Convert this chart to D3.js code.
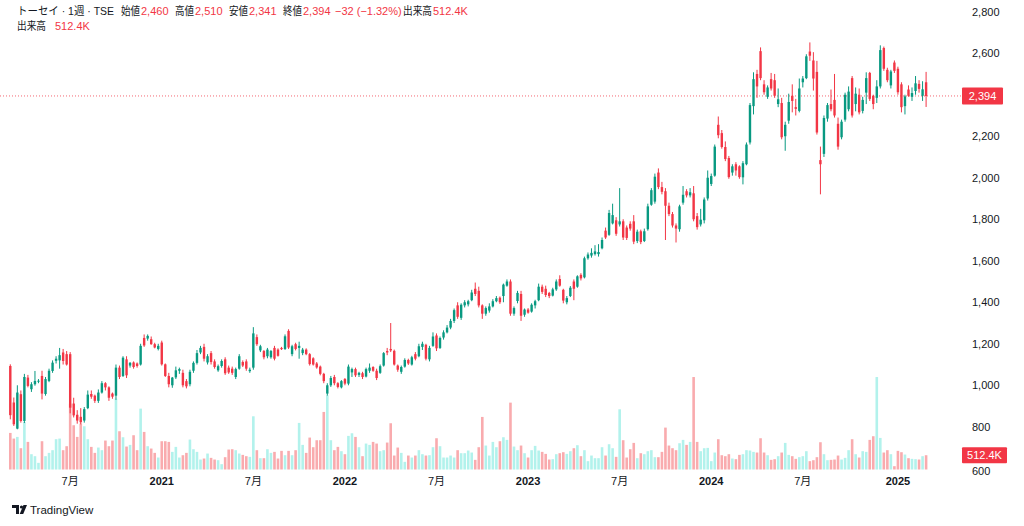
<!DOCTYPE html>
<html><head><meta charset="utf-8">
<script src="https://cdn.jsdelivr.net/npm/d3@7"></script>
<style>
html,body{margin:0;padding:0;background:#fff;}
svg{display:block;}
text{font-family:"Liberation Sans","Noto Sans CJK JP",sans-serif;}
</style></head>
<body>
<svg id="chart" width="1024" height="526"></svg>
<script>
// ---- data (weekly, first bar = week of 2020-03-09) ----
const opens = [1093,917,791,957,828,1037,981,1005,1018,1045,958,1021,1069,1118,1120,1158,1150,1150,912,858,848,830,890,958,950,925,965,1010,990,960,950,1085,1045,1125,1095,1110,1105,1100,1228,1225,1222,1198,1175,1206,1101,1045,1000,1038,1070,1060,1020,1005,1070,1108,1158,1185,1110,1155,1115,1072,1093,1125,1085,1080,1040,1080,1112,1115,1068,1085,1232,1168,1165,1140,1135,1180,1172,1180,1175,1262,1150,1198,1180,1155,1172,1150,1130,1105,1090,1055,960,1000,1040,1010,990,1030,1008,1062,1078,1050,1058,1042,1070,1088,1070,1060,1095,1165,1175,1166,1095,1065,1090,1122,1100,1150,1140,1185,1195,1125,1190,1240,1180,1230,1255,1278,1310,1385,1325,1385,1390,1410,1465,1455,1385,1345,1360,1380,1405,1422,1430,1480,1500,1345,1406,1440,1340,1365,1355,1385,1410,1475,1465,1445,1432,1462,1512,1460,1400,1430,1500,1475,1532,1520,1612,1625,1632,1632,1660,1745,1725,1780,1795,1775,1790,1760,1778,1790,1695,1742,1695,1752,1870,1885,2025,1955,1935,1865,1825,1770,1752,1880,1935,1915,1925,1815,1775,1795,1900,1970,2010,2255,2215,2148,2095,2025,2065,2055,2002,2065,2170,2345,2500,2610,2450,2390,2475,2470,2355,2360,2200,2275,2395,2340,2322,2460,2480,2608,2565,2510,2085,2115,2285,2355,2375,2260,2195,2280,2330,2480,2355,2400,2322,2410,2505,2395,2385,2440,2625,2520,2445,2555,2525,2450,2345,2425,2390,2418,2452,2395,2460];
const highs = [1101,941,1000,975,1055,1050,1015,1069,1030,1070,1040,1080,1120,1140,1180,1175,1165,1160,940,880,890,895,975,975,955,980,1020,1015,995,965,1100,1095,1140,1140,1112,1115,1110,1200,1245,1245,1235,1205,1200,1215,1105,1060,1040,1090,1085,1075,1030,1075,1115,1170,1190,1200,1150,1165,1125,1100,1125,1135,1095,1090,1085,1150,1120,1125,1085,1280,1245,1195,1170,1180,1170,1190,1178,1185,1245,1270,1195,1205,1210,1180,1178,1155,1135,1112,1095,1060,1010,1045,1050,1015,1025,1035,1100,1085,1085,1065,1065,1085,1105,1092,1080,1100,1160,1180,1300,1172,1100,1095,1130,1128,1142,1160,1200,1210,1200,1190,1255,1250,1235,1265,1290,1320,1370,1400,1395,1410,1412,1460,1495,1475,1390,1380,1395,1415,1430,1428,1490,1510,1510,1380,1455,1455,1370,1372,1395,1412,1490,1485,1480,1450,1470,1510,1530,1465,1430,1478,1510,1530,1540,1620,1640,1660,1675,1680,1712,1760,1845,1875,1810,1950,1800,1770,1790,1820,1750,1750,1755,1875,1950,2020,2045,1980,1950,1880,1835,1780,1870,1960,1945,1950,1960,1830,1850,1905,2035,2020,2160,2295,2230,2175,2105,2065,2075,2060,2080,2170,2360,2508,2520,2628,2470,2445,2505,2500,2430,2385,2270,2405,2450,2380,2478,2490,2595,2652,2605,2563,2150,2300,2360,2425,2500,2290,2280,2410,2440,2490,2435,2430,2390,2508,2510,2400,2470,2638,2632,2530,2520,2565,2535,2460,2400,2445,2435,2490,2470,2465,2510];
const lows = [836,804,788,820,818,990,968,998,1010,932,950,1015,1060,1105,1080,1100,1095,865,845,815,812,820,885,935,915,915,960,975,925,935,930,1030,1040,1035,1085,1080,1085,1095,1185,1215,1195,1178,1168,1095,1040,990,988,1030,1055,990,985,995,1060,1100,1150,1115,1100,1100,1080,1065,1085,1050,1055,1050,1030,1075,1088,1070,1060,1075,1190,1160,1125,1130,1128,1120,1138,1170,1170,1175,1140,1168,1128,1145,1145,1095,1095,1080,1048,1010,950,992,1000,985,985,1000,1000,1040,1040,1040,1030,1038,1060,1065,1025,1055,1090,1145,1160,1095,1065,1055,1085,1098,1095,1120,1135,1170,1120,1115,1185,1165,1175,1220,1250,1270,1300,1320,1315,1375,1380,1405,1430,1375,1320,1335,1350,1375,1400,1392,1400,1475,1335,1335,1395,1310,1330,1345,1350,1370,1405,1440,1425,1420,1428,1455,1475,1395,1390,1425,1410,1470,1505,1515,1605,1615,1625,1620,1655,1705,1720,1775,1720,1765,1700,1700,1745,1680,1685,1680,1690,1745,1865,1875,1945,1920,1700,1815,1760,1688,1740,1870,1905,1905,1790,1750,1765,1780,1890,1960,2005,2190,2140,2080,1995,2010,2010,1995,1968,2060,2160,2305,2385,2470,2400,2380,2420,2385,2340,2185,2130,2260,2315,2300,2315,2435,2475,2563,2420,2208,1920,2100,2270,2320,2290,2135,2185,2270,2320,2290,2320,2305,2310,2355,2370,2330,2360,2430,2515,2460,2430,2505,2400,2315,2305,2390,2370,2400,2410,2370,2341];
const closes = [856,812,965,828,1040,997,1005,1021,1022,960,1030,1070,1109,1128,1145,1117,1100,892,855,830,822,885,955,945,925,965,1010,990,940,945,1085,1040,1133,1048,1108,1088,1093,1190,1192,1238,1198,1182,1190,1101,1045,1005,1037,1072,1078,1000,995,1065,1108,1155,1180,1128,1140,1112,1088,1092,1117,1058,1062,1060,1078,1140,1095,1080,1075,1250,1198,1188,1135,1172,1165,1128,1142,1174,1236,1182,1188,1175,1190,1172,1150,1102,1100,1086,1055,1020,1000,1035,1010,992,1020,1008,1090,1078,1048,1060,1040,1078,1085,1070,1035,1092,1155,1158,1168,1100,1075,1088,1122,1105,1135,1128,1188,1200,1128,1180,1235,1178,1228,1255,1278,1310,1362,1330,1388,1400,1405,1447,1440,1385,1345,1372,1380,1405,1420,1400,1485,1500,1345,1372,1445,1335,1365,1350,1388,1405,1475,1450,1435,1430,1462,1500,1480,1408,1420,1470,1465,1525,1515,1612,1630,1638,1645,1642,1700,1712,1830,1820,1730,1790,1712,1710,1755,1692,1740,1690,1742,1862,1940,2005,1955,1932,1865,1825,1770,1755,1862,1918,1915,1930,1800,1762,1798,1895,2000,2008,2150,2205,2148,2090,2003,2055,2035,2003,2070,2160,2350,2475,2440,2480,2412,2435,2430,2395,2378,2195,2255,2365,2370,2332,2430,2478,2585,2588,2478,2218,2065,2288,2350,2330,2300,2150,2270,2400,2415,2300,2405,2315,2375,2480,2380,2355,2440,2615,2525,2470,2512,2515,2412,2340,2392,2395,2408,2455,2428,2426,2394];
const volumesK = [1313,1110,1170,764,1707,991,549,478,239,1015,478,597,693,1087,1110,693,836,2364,1588,1170,1648,1552,1087,812,597,788,693,1039,836,1039,2543,1373,1158,824,884,1230,693,2185,1349,836,752,597,430,1015,1015,991,633,812,430,513,597,1075,728,633,358,394,573,418,358,334,191,442,716,728,693,573,525,478,454,1910,693,406,406,728,597,633,394,669,513,669,513,693,1672,884,597,1146,800,1051,1051,2066,2663,1051,693,812,657,549,1206,1301,1170,800,478,931,884,991,931,657,693,967,1660,501,788,597,275,501,430,501,693,549,501,513,800,1122,836,430,430,501,430,693,585,585,681,609,346,800,1887,860,501,991,800,1015,1158,1063,2400,824,693,860,585,430,693,848,681,633,561,358,370,549,585,621,561,657,764,872,478,693,299,501,406,406,800,501,907,764,454,2161,1051,430,728,955,406,585,549,657,693,442,442,633,1504,860,764,693,943,1063,884,991,3319,991,657,764,776,299,609,1087,513,478,549,394,370,525,549,693,681,633,609,1122,609,513,346,370,478,609,955,525,478,382,442,478,657,299,334,442,979,549,334,346,358,501,358,418,693,1087,549,430,657,633,1063,1194,3319,1134,609,693,549,119,669,621,537,406,382,370,358,478,512.4];
// visible price-scale labels (2,400 is hidden behind the last-price tag in the original)
const priceTicks = [600,800,1000,1200,1400,1600,1800,2000,2200,2600,2800];
const header = {name:"トーセイ · 1週 · TSE", open:"2,460", high:"2,510", low:"2,341", close:"2,394", change:"−32 (−1.32%)", vol:"512.4K"};

// ---- build ----
const n = closes.length;
const startDate = new Date(2020, 2, 9);
const dates = d3.range(n).map(i => d3.timeWeek.offset(startDate, i));
const data = dates.map((d, i) => ({d, o: opens[i], h: highs[i], l: lows[i], c: closes[i], v: volumesK[i]}));

const UP = "#089981", DOWN = "#F23645";
const VUP = "#B2F2EC", VDOWN = "#F9ABAE";
const svg = d3.select("#chart");

const x = d3.scaleTime().domain([dates[0], dates[n - 1]]).range([10.3, 926.1]);
const y = d3.scaleLinear().domain([600, 2800]).range([468.3, 11.7]);
const yv = d3.scaleLinear().domain([0, 3320]).range([469.5, 377]);

// volume bars
svg.append("g").selectAll("rect").data(data).join("rect")
  .attr("x", d => x(d.d) - 1.3).attr("width", 2.6)
  .attr("y", d => yv(d.v)).attr("height", d => yv(0) - yv(d.v))
  .attr("fill", d => d.c >= d.o ? VUP : VDOWN);

// last price dotted line
const lastY = y(closes[n - 1]);
svg.append("line").attr("x1", 0).attr("x2", 962).attr("y1", lastY).attr("y2", lastY)
  .attr("stroke", DOWN).attr("stroke-width", 1).attr("stroke-dasharray", "1,2").attr("opacity", 0.75);

// candles
const cg = svg.append("g");
cg.selectAll("line").data(data).join("line")
  .attr("x1", d => x(d.d)).attr("x2", d => x(d.d))
  .attr("y1", d => y(d.h)).attr("y2", d => y(d.l))
  .attr("stroke", d => d.c >= d.o ? UP : DOWN).attr("stroke-width", 1);
cg.selectAll("rect").data(data).join("rect")
  .attr("x", d => x(d.d) - 1.2).attr("width", 2.4)
  .attr("y", d => y(Math.max(d.o, d.c)))
  .attr("height", d => Math.max(1, Math.abs(y(d.o) - y(d.c))))
  .attr("fill", d => d.c >= d.o ? UP : DOWN);

// right price axis
const axG = svg.append("g").attr("transform", "translate(962,0)");
const yAxis = d3.axisRight(y).tickValues(priceTicks).tickSize(0).tickPadding(10)
  .tickFormat(d3.format(","));
axG.call(yAxis);
axG.select(".domain").remove();
axG.selectAll("text").attr("font-size", 11).attr("fill", "#131722").attr("x", 10);
axG.selectAll(".tick").filter(d => d === 600).select("text").attr("dy", "0.55em");

// last price label
const pl = svg.append("g");
pl.append("rect").attr("x", 962).attr("y", lastY - 8.5).attr("width", 41).attr("height", 17).attr("fill", DOWN).attr("rx", 1);
pl.append("text").attr("x", 982.5).attr("y", lastY + 4).attr("text-anchor", "middle")
  .attr("font-size", 11).attr("fill", "#fff").text(d3.format(",")(closes[n - 1]));
// last volume label
const lvY = yv(volumesK[n - 1]);
pl.append("rect").attr("x", 962).attr("y", lvY - 8).attr("width", 45).attr("height", 16).attr("fill", DOWN).attr("rx", 1);
pl.append("text").attr("x", 984.5).attr("y", lvY + 4).attr("text-anchor", "middle")
  .attr("font-size", 11).attr("fill", "#fff").text(header.vol);

// bottom time axis: first bar of January / July
const tickIdx = d3.range(1, n).filter(i => dates[i].getMonth() !== dates[i - 1].getMonth() && (dates[i].getMonth() === 0 || dates[i].getMonth() === 6));
const xg = svg.append("g");
xg.selectAll("text").data(tickIdx).join("text")
  .attr("x", i => x(dates[i])).attr("y", 485).attr("text-anchor", "middle")
  .attr("font-size", 11).attr("fill", "#131722")
  .attr("font-weight", i => dates[i].getMonth() === 0 ? 700 : 400)
  .text(i => dates[i].getMonth() === 0 ? String(dates[i].getFullYear()) : "7月");

// header legend
const hg = svg.append("g").attr("font-size", 11);
const pieces = [
  [17, header.name, "#131722", 97],
  [121, "始値", "#131722", 19], [141, header.open, DOWN, 0],
  [175, "高値", "#131722", 19], [195, header.high, DOWN, 0],
  [229, "安値", "#131722", 19], [249, header.low, DOWN, 0],
  [283, "終値", "#131722", 19], [303, header.close, DOWN, 0],
  [335, header.change, DOWN, 0],
  [403, "出来高", "#131722", 29], [433, header.vol, DOWN, 0]
];
pieces.forEach(p => {
  const t = hg.append("text").attr("x", p[0]).attr("y", 15).attr("fill", p[2]).text(p[1]);
  if (p[3]) t.attr("textLength", p[3]).attr("lengthAdjust", "spacingAndGlyphs");
});
hg.append("text").attr("x", 17).attr("y", 30).attr("fill", "#131722")
  .attr("textLength", 29).attr("lengthAdjust", "spacingAndGlyphs").text("出来高");
hg.append("text").attr("x", 55).attr("y", 30).attr("fill", DOWN).text(header.vol);

// TradingView mark
const lg = svg.append("g").attr("fill", "#131722");
lg.append("path").attr("d", "M12,505 h7 v9 h-3 v-6 h-4 z");
lg.append("circle").attr("cx", 21.5).attr("cy", 507).attr("r", 1.6);
lg.append("path").attr("d", "M23.5,505 h3.5 l-3.8,9 h-3.5 z");
lg.append("text").attr("x", 30).attr("y", 514).attr("font-size", 11.5).text("TradingView");
</script>
</body></html>
